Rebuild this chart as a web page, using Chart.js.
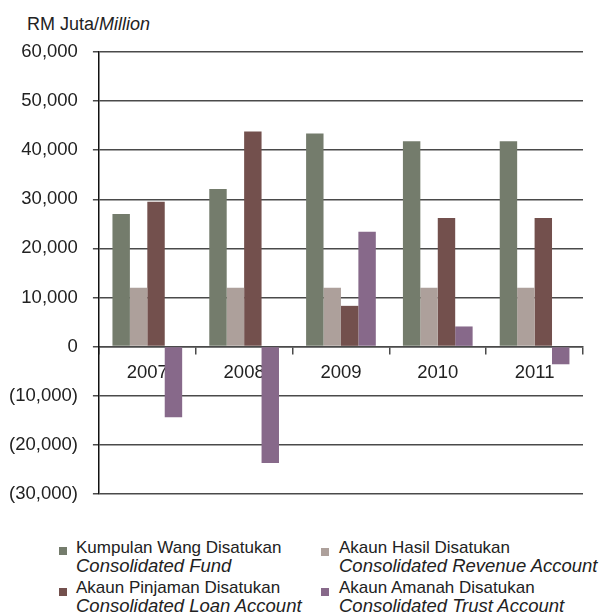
<!DOCTYPE html>
<html>
<head>
<meta charset="utf-8">
<script src="https://cdn.jsdelivr.net/npm/chart.js@4"></script>
<style>
  body { margin: 0; background: #fff; font-family: 'Liberation Sans', Arial, sans-serif; color: #222; }
  #wrap { position: relative; width: 600px; height: 612px; overflow: hidden; }
  #unit { position: absolute; left: 27px; top: 15px; font-size: 18px; line-height: 18px; white-space: nowrap; }
  #chart-box { position: absolute; left: -6px; top: 0; width: 606px; height: 520px; }
  .leg { position: absolute; font-size: 17px; line-height: 18px; white-space: nowrap; }
  .leg i { display: block; font-size: 18.5px; line-height: 18px; }
  .sw { position: absolute; width: 8px; height: 8px; }
</style>
</head>
<body>
<div id="wrap">
  <div id="unit">RM Juta/<i>Million</i></div>
  <div id="chart-box"><canvas id="chart"></canvas></div>
  <div id="legend"></div>
</div>
<script>
// Data (RM million)
const years = ['2007', '2008', '2009', '2010', '2011'];
const kumpulanWang = [27000, 32100, 43400, 41800, 41800];
const akaunHasil = [12000, 12000, 12000, 12000, 12000];
const akaunPinjaman = [29500, 43800, 8300, 26200, 26200];
const akaunAmanah = [-14400, -23700, 23400, 4100, -3600];

const seriesMalay = ['Kumpulan Wang Disatukan', 'Akaun Hasil Disatukan', 'Akaun Pinjaman Disatukan', 'Akaun Amanah Disatukan'];
const seriesEnglish = ['Consolidated Fund', 'Consolidated Revenue Account', 'Consolidated Loan Account', 'Consolidated Trust Account'];
const colors = ['#747c6c', '#ada09b', '#73504d', '#87698a'];

// Legend: two columns, two lines per entry
const legendPos = [
  { sx: 59, sy: 547, tx: 76, ty: 539 },
  { sx: 321, sy: 548, tx: 339, ty: 539 },
  { sx: 59, sy: 588, tx: 76, ty: 579 },
  { sx: 321, sy: 588, tx: 339, ty: 579 }
];
document.getElementById('legend').innerHTML = seriesMalay.map((name, i) => {
  const p = legendPos[i];
  return `<div class="sw" style="left:${p.sx}px;top:${p.sy}px;background:${colors[i]}"></div>
    <div class="leg" style="left:${p.tx}px;top:${p.ty}px">${name}<i>${seriesEnglish[i]}</i></div>`;
}).join('');

const fmt = v => {
  const s = Math.abs(v).toLocaleString('en-US');
  return v < 0 ? '(' + s + ')' : s;
};

const gridColor = '#4a4a4a';
const tickFont = { family: "'Liberation Sans', Arial, sans-serif", size: 18.5 };

new Chart(document.getElementById('chart'), {
  type: 'bar',
  data: {
    labels: years,
    datasets: [kumpulanWang, akaunHasil, akaunPinjaman, akaunAmanah].map((d, i) => ({
      label: seriesMalay[i],
      data: d,
      backgroundColor: colors[i],
      borderWidth: 0,
      categoryPercentage: 0.72,
      barPercentage: 1
    }))
  },
  options: {
    responsive: true,
    maintainAspectRatio: false,
    animation: false,
    layout: { padding: { left: 0, top: 52, right: 17, bottom: 26 } },
    plugins: { legend: { display: false }, tooltip: { enabled: false } },
    scales: {
      x: {
        position: { y: 0 },
        grid: { offset: true, drawOnChartArea: false, tickLength: 7, color: gridColor, lineWidth: 1.5 },
        border: { display: true, color: gridColor, width: 1.5 },
        ticks: { color: '#222', font: tickFont, padding: 8 }
      },
      y: {
        min: -30000,
        max: 60000,
        ticks: { stepSize: 10000, color: '#222', font: tickFont, padding: 15, callback: v => fmt(v) },
        grid: { color: gridColor, lineWidth: 1.5, tickLength: 6 },
        border: { display: true, color: '#111', width: 1.5 }
      }
    }
  }
});
</script>
</body>
</html>
